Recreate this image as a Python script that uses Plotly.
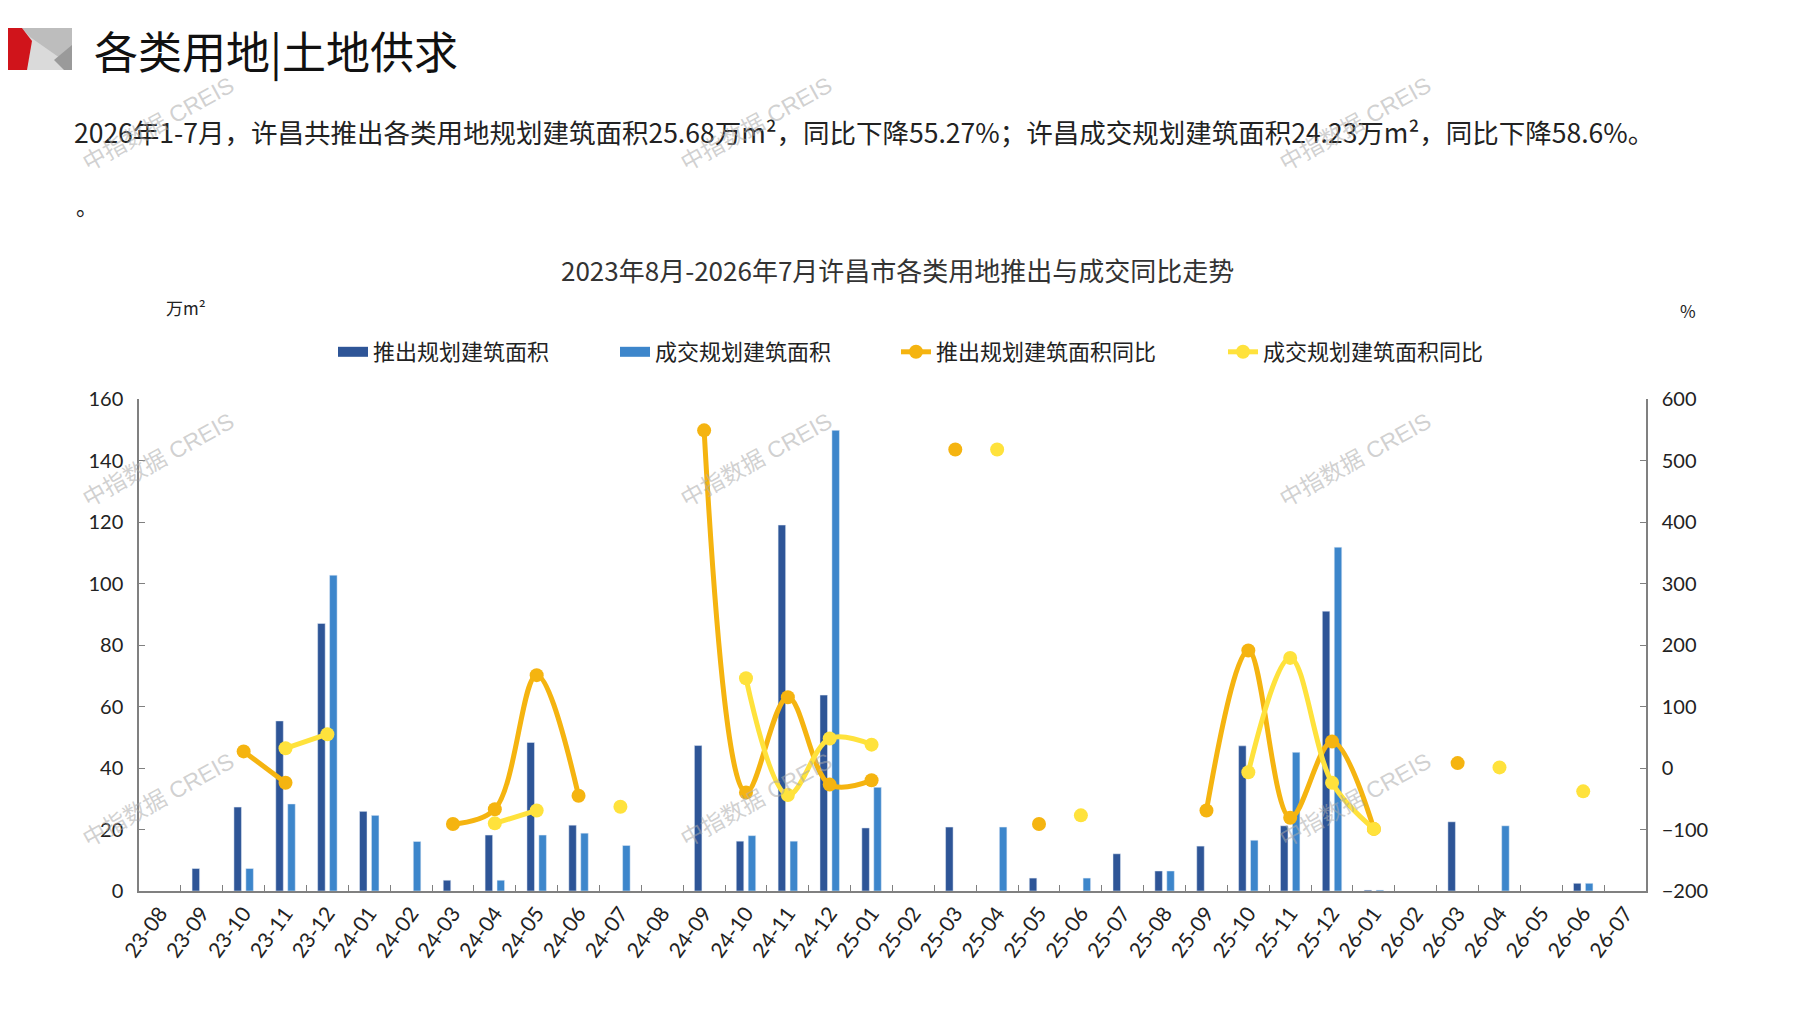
import plotly.graph_objects as go

months = ['23-08', '23-09', '23-10', '23-11', '23-12', '24-01', '24-02', '24-03', '24-04',
          '24-05', '24-06', '24-07', '24-08', '24-09', '24-10', '24-11', '24-12', '25-01',
          '25-02', '25-03', '25-04', '25-05', '25-06', '25-07', '25-08', '25-09', '25-10',
          '25-11', '25-12', '26-01', '26-02', '26-03', '26-04', '26-05', '26-06', '26-07']

# 万m²
supply_area = [None, 7.3, 27.3, 55.3, 87.0, 25.9, None, 3.5, 18.2, 48.3, 21.4, None,
               None, 47.3, 16.2, 119.0, 63.7, 20.5, None, 20.8, None, 4.2, None, 12.1,
               6.5, 14.6, 47.2, 21.2, 91.0, 0.3, None, 22.5, None, None, 2.5, None]
deal_area = [None, None, 7.3, 28.3, 102.7, 24.6, 16.1, None, 3.5, 18.2, 18.8, 14.8,
             None, None, 18.0, 16.2, 149.8, 33.7, None, None, 20.8, None, 4.2, None,
             6.5, None, 16.5, 45.1, 111.8, 0.3, None, None, 21.2, None, 2.5, None]

# %
supply_yoy = [None, None, 27, -24, None, None, None, -91, -67, 151, -45, None,
              None, 549, -40, 115, -27, -20, None, 518, None, -91, None, None,
              None, -69, 191, -81, 43, -99, None, 8, None, None, None, None]
deal_yoy = [None, None, None, 32, 55, None, None, None, -90, -69, None, -63,
            None, None, 146, -44, 48, 38, None, None, 518, None, -77, None,
            None, None, -7, 179, -24, -99, None, None, 1, None, -38, None]

W, H = 1797, 1010
L, R, T, B = 139, 1646, 399, 891
OFF = 8  # page body margin pushes the figure right/down

CJK = "Noto Sans CJK SC"
NUM = "Lato, Noto Sans CJK SC"

DARK_BLUE = "#2E5597"
LIGHT_BLUE = "#3D86CB"
ORANGE = "#F5B410"
YELLOW = "#FFE23C"


def px(x):
    return (x - L) / (R - L)


def py(y):
    return (B - y) / (B - T)


def path(points):
    return "M " + " L ".join(f"{px(x):.5f},{py(y):.5f}" for x, y in points) + " Z"


fig = go.Figure()
# legend-only entries so the bar keys are wide bands like the original
fig.add_scatter(x=[None], y=[None], mode="lines", name="推出规划建筑面积",
                line=dict(color=DARK_BLUE, width=12), legendgroup="s", legendwidth=237)
fig.add_scatter(x=[None], y=[None], mode="lines", name="成交规划建筑面积",
                line=dict(color=LIGHT_BLUE, width=12), legendgroup="d", legendwidth=236)
fig.add_bar(x=months, y=supply_area, name="推出规划建筑面积", marker_color=DARK_BLUE,
            legendgroup="s", showlegend=False)
fig.add_bar(x=months, y=deal_area, name="成交规划建筑面积", marker_color=LIGHT_BLUE,
            legendgroup="d", showlegend=False)
fig.add_scatter(x=months, y=supply_yoy, name="推出规划建筑面积同比", yaxis="y2",
                mode="lines+markers", line=dict(color=ORANGE, width=5, shape="spline"),
                marker=dict(size=14, color=ORANGE), connectgaps=False, legendwidth=282)
fig.add_scatter(x=months, y=deal_yoy, name="成交规划建筑面积同比", yaxis="y2",
                mode="lines+markers", line=dict(color=YELLOW, width=5, shape="spline"),
                marker=dict(size=14, color=YELLOW), connectgaps=False)

# logo blocks at top left
shapes = [
    dict(type="path", path=path([(22, 28), (72, 28), (72, 70), (22, 70)]),
         fillcolor="#DADADA", line_width=0),
    dict(type="path", path=path([(22, 28), (72, 28), (72, 46), (60, 58), (30, 37)]),
         fillcolor="#BDBDBD", line_width=0),
    dict(type="path", path=path([(54, 60), (72, 45), (72, 70), (64, 70)]),
         fillcolor="#9A9A9A", line_width=0),
    dict(type="path", path=path([(0, 28), (22, 28), (32, 41), (27, 70), (0, 70)]),
         fillcolor="#D0141B", line_width=0),
]
for s in shapes:
    s.update(xref="paper", yref="paper", layer="above")

annotations = [
    dict(text="各类用地|土地供求", x=px(92), y=py(50), xanchor="left", yanchor="middle",
         font=dict(size=44, color="#111111", family=CJK)),
    dict(text="2026年1-7月，许昌共推出各类用地规划建筑面积25.68万m²，同比下降55.27%；"
              "许昌成交规划建筑面积24.23万m²，同比下降58.6%。",
         x=px(72), y=py(131), xanchor="left", yanchor="middle",
         font=dict(size=26.5, color="#222222", family=CJK)),
    dict(text="。", x=px(74), y=py(205), xanchor="left", yanchor="middle",
         font=dict(size=22, color="#222222", family=CJK)),
    dict(text="2023年8月-2026年7月许昌市各类用地推出与成交同比走势", x=px(897), y=py(269),
         xanchor="center", yanchor="middle", font=dict(size=26, color="#333333", family=CJK)),
    dict(text="万m²", x=px(186), y=py(308), xanchor="center", yanchor="middle",
         font=dict(size=17, color="#222222", family=CJK)),
    dict(text="%", x=px(1688), y=py(310), xanchor="center", yanchor="middle",
         font=dict(size=17, color="#222222", family=CJK)),
]

# watermarks
for wx in (158, 756, 1355):
    for wy in (124, 460, 800):
        annotations.append(dict(text="中指数据 CREIS", x=px(wx), y=py(wy), xanchor="center",
                                yanchor="middle", textangle=-29, showarrow=False,
                                font=dict(size=23, color="rgba(170,170,170,0.55)",
                                          family="Liberation Sans, Noto Sans CJK SC")))
for a in annotations:
    a.setdefault("showarrow", False)
    a.update(xref="paper", yref="paper")

fig.update_layout(
    width=W, height=H,
    margin=dict(l=L - OFF, r=W - R + OFF, t=T - OFF, b=H - B + OFF, autoexpand=False),
    paper_bgcolor="white", plot_bgcolor="white",
    barmode="group", bargap=0.43, bargroupgap=0.37,
    font=dict(family=NUM, color="#222222"),
    showlegend=True,
    legend=dict(orientation="h", x=px(333), y=py(352), xanchor="left", yanchor="middle",
                font=dict(size=22, family=CJK, color="#222222"), bgcolor="rgba(0,0,0,0)",
                traceorder="normal", itemwidth=30),
    xaxis=dict(type="category", range=[-0.5, len(months) - 0.5], tickangle=-54,
               tickson="boundaries", ticks="inside",
               ticklen=6, tickcolor="#808080", showline=True, linecolor="#808080",
               linewidth=1.5, showgrid=False, zeroline=False,
               tickfont=dict(size=21, family=NUM, color="#222222")),
    yaxis=dict(range=[0, 160], dtick=20, ticks="inside", ticklen=6, tickcolor="#808080",
               showline=True, linecolor="#808080", linewidth=1.5, showgrid=False,
               zeroline=False, ticklabelstandoff=10,
               tickfont=dict(size=20, family=NUM, color="#222222")),
    yaxis2=dict(range=[-200, 600], dtick=100, overlaying="y", side="right", ticks="inside",
                ticklen=6, tickcolor="#808080", showline=True, linecolor="#808080",
                linewidth=1.5, showgrid=False, zeroline=False, ticklabelstandoff=10,
                tickfont=dict(size=20, family=NUM, color="#222222")),
    shapes=shapes,
    annotations=annotations,
)

fig.write_html("out.html")
